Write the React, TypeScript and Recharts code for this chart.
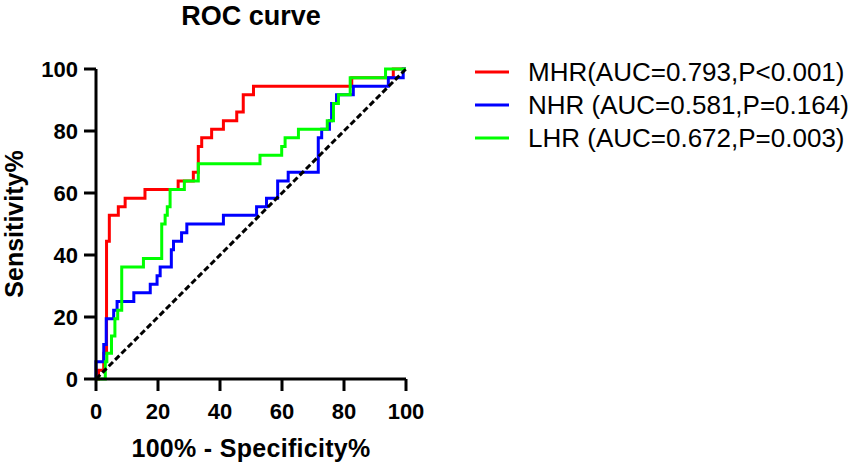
import { Legend, Line, LineChart, XAxis, YAxis } from "recharts";

const font = "'Liberation Sans', Arial, sans-serif";

const ticks = [0, 20, 40, 60, 80, 100];

// ROC points [100% - specificity, sensitivity]
const mhrPoints = [
  [0, 0], [0.8, 2.8], [2.5, 8.3], [3.4, 44.4], [4.3, 52.8], [7.2, 55.6],
  [9.4, 58.3], [15.8, 61.1], [26.5, 63.9], [31.4, 66.7], [33, 75], [34.1, 77.8],
  [37.3, 80.6], [41.1, 83.3], [45.4, 86.1], [47.5, 91.7], [50.8, 94.4],
  [82.5, 97.2], [95.9, 100], [100, 100],
];

const nhrPoints = [
  [0, 0], [0, 5.6], [2.5, 11.1], [3.3, 19.4], [5.7, 22.2], [6.8, 25],
  [12.2, 27.8], [17.5, 30.6], [19.7, 33.3], [20.7, 36.1], [24.3, 41.7],
  [25, 44.4], [27.6, 47.2], [29.3, 50], [41.1, 52.8], [51.8, 55.6], [55, 58.3],
  [58.6, 63.9], [62, 66.7], [71.7, 77.8], [72.8, 80.6], [75.3, 83.3],
  [76, 88.9], [77.6, 91.7], [83, 94.4], [94.3, 97.2], [99.1, 100], [100, 100],
];

const lhrPoints = [
  [0, 0], [3, 5.6], [3.5, 8.3], [5, 13.9], [6.1, 19.4], [7, 22.2], [8.3, 36.1],
  [15.3, 38.9], [21.2, 50], [22.3, 52.8], [23, 55.6], [23.9, 61.1],
  [28.5, 63.9], [33, 69.4], [52.9, 72.2], [59.9, 75], [61, 77.8], [65.3, 80.6],
  [74.6, 83.3], [76.6, 88.9], [78.2, 91.7], [82, 97.2], [93.4, 100], [100, 100],
];

const chancePoints = [[0, 0], [100, 100]];

const seriesNames = [
  "MHR(AUC=0.793,P<0.001)",
  "NHR (AUC=0.581,P=0.164)",
  "LHR (AUC=0.672,P=0.003)",
];
const seriesColors = ["#ff0000", "#0000ff", "#00ff00"];
const seriesPoints = [mhrPoints, nhrPoints, lhrPoints];

const toRows = (pts: number[][]) => pts.map(([x, y]) => ({ x, y }));

// keep the legend in series order (recharts sorts it by name otherwise),
// and leave out the chance line
const RocLegend = (props: any) => {
  const items = (props.payload || [])
    .filter((e: any) => seriesNames.includes(e.value))
    .sort((a: any, b: any) => seriesNames.indexOf(a.value) - seriesNames.indexOf(b.value));
  return (
    <svg width={385} height={110}>
      {items.map((entry: any, i: number) => {
        const cy = 20 + i * 33;
        return (
          <g key={entry.value}>
            <line x1={9} x2={43} y1={cy} y2={cy} stroke={entry.color} strokeWidth={3} />
            <text x={62} y={cy + 9} fontSize={26} fontFamily={font} fill="#000">
              {entry.value}
            </text>
          </g>
        );
      })}
    </svg>
  );
};

const tickStyle = { fill: "#000", fontSize: 22, fontWeight: "bold", fontFamily: font };
const axisStroke = { stroke: "#000", strokeWidth: 3 };

export default function App() {
  return (
    <div style={{ position: "absolute", left: 0, top: 0, width: 856, height: 467, background: "#fff" }}>
      <div
        style={{
          position: "absolute",
          left: 0,
          top: 0,
          width: 502,
          textAlign: "center",
          fontFamily: font,
          fontWeight: "bold",
          fontSize: 27,
          lineHeight: "32px",
          color: "#000",
        }}
      >
        ROC curve
      </div>
      <LineChart width={856} height={467} margin={{ top: 69, right: 450, bottom: 0, left: 0 }}>
        <XAxis
          type="number"
          dataKey="x"
          domain={[0, 100]}
          ticks={ticks}
          height={88}
          tickSize={12}
          tickMargin={12}
          axisLine={axisStroke}
          tickLine={axisStroke}
          tick={tickStyle}
          label={{
            value: "100% - Specificity%",
            position: "insideBottom",
            offset: 10,
            fontSize: 25,
            fontWeight: "bold",
            fontFamily: font,
            fill: "#000",
            letterSpacing: 0.3,
          }}
        />
        <YAxis
          type="number"
          dataKey="y"
          domain={[0, 100]}
          ticks={ticks}
          width={96}
          tickSize={12}
          tickMargin={6}
          axisLine={axisStroke}
          tickLine={axisStroke}
          tick={tickStyle}
          label={{
            value: "Sensitivity%",
            angle: -90,
            position: "insideLeft",
            offset: 14,
            fontSize: 25,
            fontWeight: "bold",
            fontFamily: font,
            fill: "#000",
            style: { textAnchor: "middle" },
          }}
        />
        <Legend
          layout="vertical"
          align="center"
          verticalAlign="middle"
          wrapperStyle={{ left: 466, top: 52, width: 385 }}
          content={<RocLegend />}
        />
        {seriesPoints.map((pts, i) => (
          <Line
            key={seriesNames[i]}
            data={toRows(pts)}
            dataKey="y"
            name={seriesNames[i]}
            type="stepAfter"
            stroke={seriesColors[i]}
            strokeWidth={3}
            dot={false}
            activeDot={false}
            isAnimationActive={false}
          />
        ))}
        <Line
          data={toRows(chancePoints)}
          dataKey="y"
          type="linear"
          stroke="#000"
          strokeWidth={3}
          strokeDasharray="6 3"
          dot={false}
          activeDot={false}
          legendType="none"
          isAnimationActive={false}
        />
      </LineChart>
    </div>
  );
}
